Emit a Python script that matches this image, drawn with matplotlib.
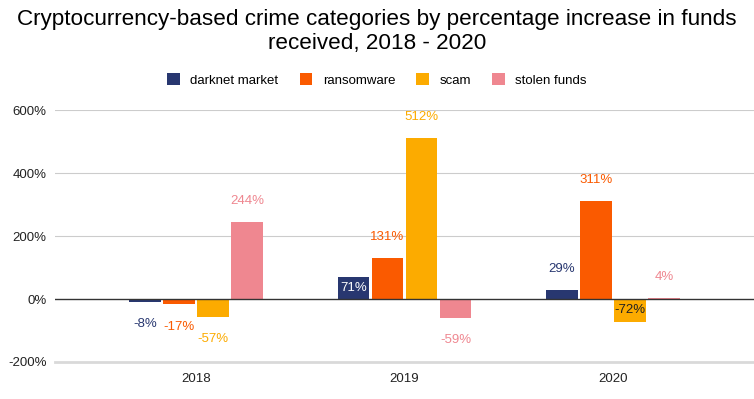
import numpy as np
import matplotlib
matplotlib.use('Agg')
import matplotlib.pyplot as plt

plt.rcParams['font.family'] = ['Liberation Sans', 'DejaVu Sans']

years = ['2018', '2019', '2020']
series = ['darknet market', 'ransomware', 'scam', 'stolen funds']
darknet = [-8, 71, 29]
ransomware = [-17, 131, 311]
scam = [-57, 512, -72]
stolen = [244, -59, 4]
colors = ['#283770', '#fa5a00', '#fcab00', '#ef8790']
yticks = [-200, 0, 200, 400, 600]

values = [darknet, ransomware, scam, stolen]

fig = plt.figure(figsize=(7.54, 3.99), dpi=100)
ax = fig.add_axes([55 / 754, 37 / 399, 699 / 754, 252 / 399])

x = np.arange(len(years))
step = 0.163
width = 0.153
for i, (name, vals, col) in enumerate(zip(series, values, colors)):
    pos = x + (i - 1.5) * step
    bars = ax.bar(pos, vals, width, color=col, label=name, zorder=3)
    for b, v in zip(bars, vals):
        cx = b.get_x() + b.get_width() / 2
        txt = f'{v}%'
        if name == 'darknet market' and v == 71:
            ax.text(cx, v / 2, txt, ha='center', va='center', color='white', fontsize=9.5, zorder=4)
        elif name == 'scam' and v == -72:
            ax.text(cx, v / 2, txt, ha='center', va='center', color='#222222', fontsize=9.5, zorder=4)
        else:
            off = 15 if v >= 0 else -16
            ax.annotate(txt, (cx, v), xytext=(0, off), textcoords='offset points',
                        ha='center', va='center', color=col, fontsize=9.5,
                        annotation_clip=False)

ax.set_xlim(-0.676, 2.676)
ax.set_ylim(-200, 600)
ax.set_yticks(yticks)
ax.set_yticklabels([f'{t}%' for t in yticks], fontsize=9.5, color='#222222')
ax.set_xticks(x)
ax.set_xticklabels(years, fontsize=9.5, color='#222222')
ax.tick_params(axis='both', length=0)
ax.tick_params(axis='y', pad=6)
ax.tick_params(axis='x', pad=8)
for s in ax.spines.values():
    s.set_visible(False)
for t in yticks:
    if t == 0:
        ax.axhline(0, color='#333333', linewidth=1, zorder=4)
    elif t == -200:
        ax.axhline(t, color='#d9d9d9', linewidth=2, zorder=1, clip_on=False)
    else:
        ax.axhline(t, color='#cccccc', linewidth=0.8, zorder=1)

fig.text(0.5, 1 - 31.5 / 399, 'Cryptocurrency-based crime categories by percentage increase in funds\nreceived, 2018 - 2020',
         ha='center', va='center', fontsize=16.2, color='#000000', linespacing=1.2)
fig.legend(loc='center', bbox_to_anchor=(0.5, 1 - 80 / 399), ncol=4, frameon=False,
           fontsize=9.5, handlelength=0.95, handleheight=0.95, columnspacing=1.6, handletextpad=0.8)

fig.savefig('out.png', dpi=100)
